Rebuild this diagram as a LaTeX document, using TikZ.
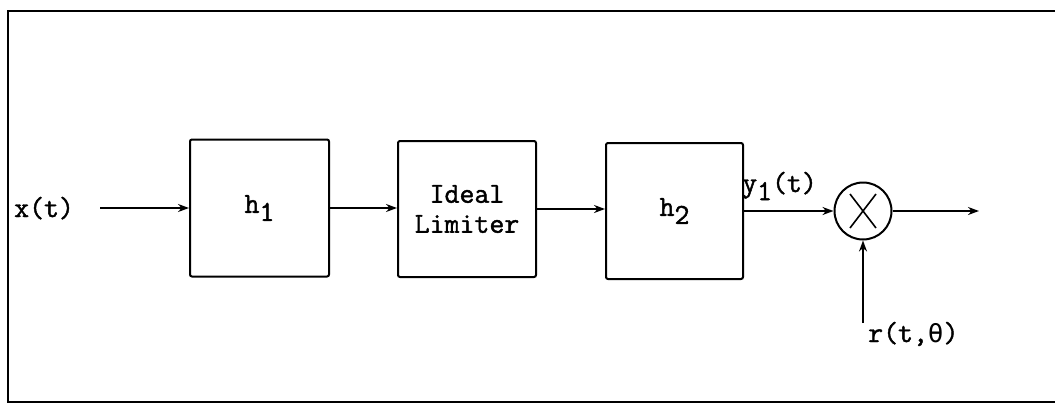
\documentclass[tikz,border=0pt]{standalone}
\usepackage{fontspec}
\setmonofont{Latin Modern Mono}[FakeBold=1.5]
\newfontfamily\gkfont{DejaVu Sans Mono}
\usetikzlibrary{arrows.meta,calc}
\begin{document}
\begin{tikzpicture}[x=1pt,y=-1pt,
  every node/.style={font=\ttfamily\fontsize{29}{32}\selectfont},
  blk/.style={draw,line width=2pt,rounded corners=2pt,inner sep=0pt},
  conn/.style={line width=2pt,-{Stealth[length=11pt,width=8pt]}},
  plain/.style={line width=2pt}]
\useasboundingbox (0,0) rectangle (1055,407);
\draw[plain] (1056,11) -- (8,11) -- (8,402) -- (1056,402);
\newcommand{\lowsub}[1]{\raisebox{-0.65ex}{#1}}
\node[blk,minimum width=139pt,minimum height=137pt] (h1) at (259.5,208) {h\lowsub{1}};
\node[blk,minimum width=138pt,minimum height=136pt,align=center] (lim) at (467,209) {Ideal\\[-2pt]Limiter};
\node[blk,minimum width=137pt,minimum height=136pt] (h2) at (674.5,211) {h\lowsub{2}};
\node[draw,circle,line width=2pt,minimum size=57pt,inner sep=0pt] (mult) at (863,211) {};
\draw[line width=1.6pt] ($(mult.center)+(-13,-17)$) -- ($(mult.center)+(13,17)$);
\draw[line width=1.6pt] ($(mult.center)+(13,-17)$) -- ($(mult.center)+(-13,17)$);
\node[anchor=base west,inner sep=0pt] (xl) at (14,217) {x(t)};
\coordinate (xin) at (100,208);
\draw[conn] (xin) -- (h1.west);
\draw[conn] (h1.east) -- (h1.east -| lim.west);
\draw[conn] (lim.east) -- (lim.east -| h2.west);
\draw[conn] (h2.east) -- (mult.west);
\coordinate (out) at (979,211);
\draw[conn] (mult.east) -- (out);
\coordinate (rin) at (863,323);
\draw[conn] (rin) -- (mult.south);
\node[anchor=base west,inner sep=0pt] (yl) at (742,192) {y\lowsub{1}(t)};
\node[anchor=base west,inner sep=0pt] (rl) at (868,342) {r(t,{\gkfont\fontsize{26}{30}\selectfont θ})};
\end{tikzpicture}
\end{document}
